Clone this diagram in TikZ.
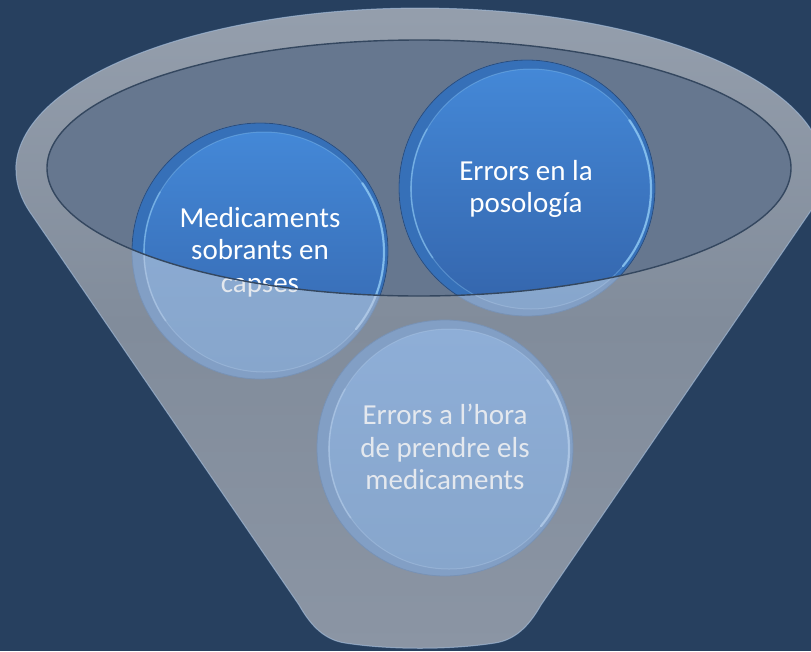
\documentclass[tikz,border=0pt]{standalone}
\usepackage{fontspec}
\setmainfont{Carlito}
\usetikzlibrary{calc}
\definecolor{bgnavy}{HTML}{27405F}
\definecolor{funneltop}{HTML}{959FAD}
\definecolor{funnelmid}{HTML}{818C9B}
\definecolor{funnelbot}{HTML}{8B95A4}
\definecolor{slate}{HTML}{66778F}
\definecolor{ellline}{HTML}{34475F}
\definecolor{ringdark}{HTML}{2B4D7C}
\definecolor{vividout}{HTML}{3670B8}
\definecolor{vividtop}{HTML}{4488D7}
\definecolor{vividbot}{HTML}{3465AC}
\definecolor{vividhl}{HTML}{92CCF6}
\definecolor{paleout}{HTML}{829FC5}
\definecolor{paletop}{HTML}{8EAED7}
\definecolor{palebot}{HTML}{87A6CC}
\definecolor{palehl}{HTML}{B4CDEA}
\definecolor{paletext}{HTML}{E4E8EE}
\definecolor{edgeblue}{HTML}{A9C3E2}
\tikzset{
  disctxt/.style={align=center, inner sep=0pt, font=\fontsize{29}{32.5}\selectfont},
  discouter/.style={circle, minimum size=256pt, inner sep=0pt, line width=0.8pt}
}
% #1 name, #2 x, #3 y, #4 outer colour, #5 top, #6 bottom, #7 highlight, #8 outline
\newcommand\mydisc[8]{%
  \node[discouter, fill=#4, draw=#8] (#1) at (#2,#3) {};
  \shade[top color=#5, bottom color=#6] ($(#1.center)+(4,1)$) circle[radius=120pt];
  \draw[#7, line width=1pt, opacity=0.35] ($(#1.center)+(4,1)$) circle[radius=120pt];
  \draw[#7, line width=2.2pt, opacity=0.75, line cap=round] ($(#1.center)+(4,1)+(-40:120pt)$) arc[start angle=-40, end angle=35, radius=120pt];
  \draw[#7, line width=1.6pt, opacity=0.5, line cap=round] ($(#1.center)+(4,1)+(150:120pt)$) arc[start angle=150, end angle=215, radius=120pt];
}
\begin{document}
\begin{tikzpicture}[x=1pt,y=-1pt]
\useasboundingbox (0,0) rectangle (811,651);
\fill[bgnavy] (0,0) rectangle (811,651);
% funnel (rim and body), shaded from top to bottom
\shade[top color=funneltop, bottom color=funnelbot, middle color=funnelmid]
  (16,170) arc[start angle=180, end angle=195, x radius=404pt, y radius=162pt]
  -- (299,605)
  .. controls (312,628) and (326,640) .. (345,643)
  .. controls (390,650) and (450,650) .. (495,643)
  .. controls (514,640) and (528,628) .. (541,605)
  -- (810,212) arc[start angle=-15, end angle=180, x radius=404pt, y radius=162pt] -- cycle;
% light edge of the funnel
\draw[edgeblue, line width=1pt, opacity=0.6]
  (16,170) arc[start angle=180, end angle=195, x radius=404pt, y radius=162pt]
  -- (299,605)
  .. controls (312,628) and (326,640) .. (345,643)
  .. controls (390,650) and (450,650) .. (495,643)
  .. controls (514,640) and (528,628) .. (541,605)
  -- (810,212) arc[start angle=-15, end angle=180, x radius=404pt, y radius=162pt];
% opening
\fill[slate] (419,168) ellipse[x radius=372pt, y radius=128pt];
% pale discs (seen through the glass)
\mydisc{cApale}{260}{251}{paleout}{paletop}{palebot}{palehl}{paleout!92!black}
\mydisc{cBpale}{527}{188}{paleout}{paletop}{palebot}{palehl}{paleout!92!black}
\mydisc{cC}{445}{448}{paleout}{paletop}{palebot}{palehl}{paleout!92!black}
\node[disctxt, text=paletext] (tApale) at (260,252) {Medicaments\\sobrants en\\capses};
\node[disctxt, text=paletext] (tBpale) at (526,189) {Errors en la\\posología};
\node[disctxt, text=paletext] (tC) at (445,447) {Errors a l’hora\\de prendre els\\medicaments};
% vivid discs inside the opening
\begin{scope}
  \clip (419,168) ellipse[x radius=372pt, y radius=128pt];
  \mydisc{cA}{260}{251}{vividout}{vividtop}{vividbot}{vividhl}{ringdark}
  \mydisc{cB}{527}{188}{vividout}{vividtop}{vividbot}{vividhl}{ringdark}
  \node[disctxt, text=white] (tA) at (260,252) {Medicaments\\sobrants en\\capses};
  \node[disctxt, text=white] (tB) at (526,189) {Errors en la\\posología};
\end{scope}
% rim of the opening
\draw[ellline, line width=1.4pt] (419,168) ellipse[x radius=372pt, y radius=128pt];
\end{tikzpicture}
\end{document}
